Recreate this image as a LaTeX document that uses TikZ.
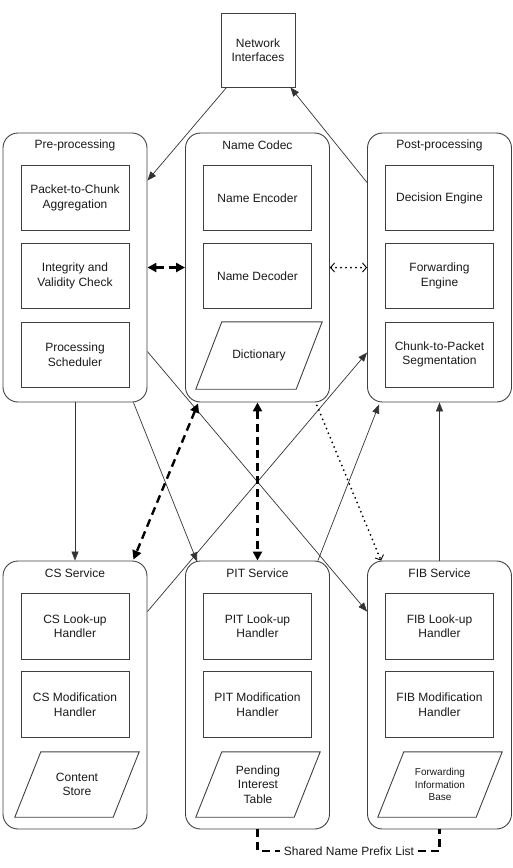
\documentclass[tikz,border=0pt]{standalone}
\usepackage{fontspec}
\setmainfont{Liberation Sans}
\usetikzlibrary{arrows.meta,calc}
\begin{document}
\begin{tikzpicture}[x=1pt,y=-1pt,
  txt/.style={font=\fontsize{12}{14.5}\selectfont, text=black!90, align=center},
  group/.style={draw=black!75, line width=0.9pt, rounded corners=15pt, minimum width=144pt, minimum height=269pt, inner sep=0pt},
  title/.style={txt},
  inbox/.style={draw=black!75, line width=0.9pt, minimum width=108pt, minimum height=65pt, inner sep=0pt, txt},
  paratext/.style={minimum width=124pt, minimum height=65pt, inner sep=0pt, txt},
  parashape/.style={draw=black!75, line width=0.9pt, line join=miter},
  conn/.style={draw=black!80, line width=0.7pt, -{Triangle[length=9pt,width=7pt]}},
  thickdash/.style={draw=black, line width=2.4pt, dash pattern=on 8pt off 5pt},
  biarrow/.style={thickdash, {Triangle[length=9pt,width=9pt]}-{Triangle[length=9pt,width=9pt]}},
  dotline/.style={draw=black, line width=2pt, dash pattern=on 0pt off 5pt, line cap=round},
  barbtip/.tip={Straight Barb[length=4pt,width=9pt,line width=0.9pt,line cap=butt]},
]
\useasboundingbox (0,0) rectangle (512,868);

% Network interfaces
\node[inbox, minimum width=74pt, minimum height=74pt] (ni) at (258,50) {Network\\Interfaces};

% top groups
\node[group] (pre) at (75,267.5) {};
\node[group] (nc) at (257.5,267.5) {};
\node[group] (post) at (439.5,267.5) {};
\node[title] (pret) at ($(pre.north)+(0,13)$) {Pre-processing};
\node[title] (nct) at ($(nc.north)+(0,13)$) {Name Codec};
\node[title] (postt) at ($(post.north)+(0,13)$) {Post-processing};

\node[inbox] (p1) at (75,198) {Packet-to-Chunk\\Aggregation};
\node[inbox] (p2) at (75,276) {Integrity and\\Validity Check};
\node[inbox] (p3) at (75,354.5) {Processing\\Scheduler};

\node[inbox] (n1) at (257.5,198) {Name Encoder};
\node[inbox] (n2) at (257.5,276) {Name Decoder};
\node[paratext, minimum height=67pt, minimum width=126pt] (n3) at (259,355.5) {Dictionary};

\node[inbox] (o1) at (439.5,198) {Decision Engine};
\node[inbox] (o2) at (439.5,276) {Forwarding\\Engine};
\node[inbox] (o3) at (439.5,354.5) {Chunk-to-Packet\\Segmentation};

% bottom groups
\node[group, minimum height=268pt] (cs) at (75,695) {};
\node[group, minimum height=268pt] (pit) at (257.5,695) {};
\node[group, minimum height=268pt] (fib) at (439.5,695) {};
\node[title] (cst) at ($(cs.north)+(0,13)$) {CS Service};
\node[title] (pitt) at ($(pit.north)+(0,13)$) {PIT Service};
\node[title] (fibt) at ($(fib.north)+(0,13)$) {FIB Service};

\node[inbox, minimum height=66pt] (c1) at (75,626) {CS Look-up\\Handler};
\node[inbox, minimum height=66pt] (c2) at (75,704.5) {CS Modification\\Handler};
\node[paratext] (c3) at (77,784.5) {Content\\Store};

\node[inbox, minimum height=66pt] (t1) at (257.5,626) {PIT Look-up\\Handler};
\node[inbox, minimum height=66pt] (t2) at (257.5,704.5) {PIT Modification\\Handler};
\node[paratext] (t3) at (258,784.5) {Pending\\Interest\\Table};

\node[inbox, minimum height=66pt] (f1) at (439.5,626) {FIB Look-up\\Handler};
\node[inbox, minimum height=66pt] (f2) at (439.5,704.5) {FIB Modification\\Handler};
\node[paratext, font=\fontsize{10}{12.5}\selectfont] (f3) at (440,784.5) {Forwarding\\Information\\Base};

% parallelogram outlines
\foreach \p in {n3,c3,t3,f3}{
  \draw[parashape] (\p.south west) -- ($(\p.north west)+(26,0)$) -- (\p.north east) -- ($(\p.south east)+(-26,0)$) -- cycle;
}

% connectors
\draw[conn] ($(ni.south west)+(6,0)$) -- ($(pre.north east)+(0,48)$);
\draw[conn] ($(post.north west)+(0,50)$) -- ($(ni.south east)+(-5,0)$);
\draw[biarrow] (pre.east) -- (nc.east -| nc.west);
\draw[dotline, barbtip-barbtip] (nc.east) -- (post.west);

\draw[conn] (pre.south) -- (cs.north);
\draw[conn] ($(pre.south east)+(-14,0)$) -- ($(pit.north west)+(12,1)$);
\draw[conn] ($(pre.north east)+(0,219)$) -- ($(fib.north west)+(0,51)$);
\draw[conn] ($(cs.north east)+(0,51)$) -- ($(post.north west)+(0,220)$);
\draw[conn] ($(pit.north east)+(-12,0)$) -- ($(post.south west)+(12,2)$);

\draw[biarrow] ($(nc.south west)+(13,1)$) -- ($(cs.north east)+(-14,-1)$);
\draw[biarrow] (nc.south) -- (pit.north);
\draw[dotline, -barbtip] ($(nc.south east)+(-13,3)$) -- ($(fib.north west)+(14,0)$);

\draw[conn] (fib.north) -- (post.south);

% shared name prefix list
\node[txt] (spl) at (349,851) {Shared Name Prefix List};
\draw[thickdash] (pit.south) |- (spl.west);
\draw[thickdash] (spl.east) -| (fib.south);
\end{tikzpicture}
\end{document}
